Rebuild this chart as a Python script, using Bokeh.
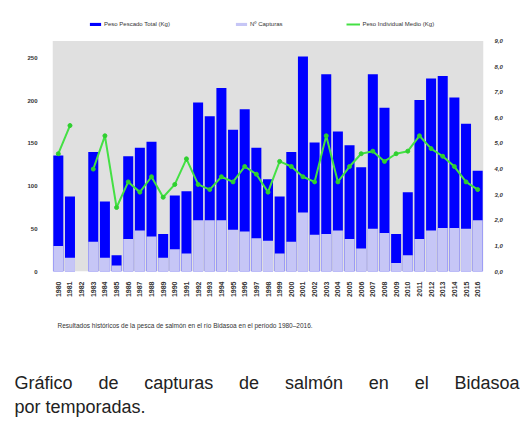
import math
from bokeh.plotting import figure
from bokeh.models import (FactorRange, Range1d, LinearAxis, FixedTicker, Legend,
                          LegendItem, BoxAnnotation, ColumnDataSource)
from bokeh.core.properties import value
from bokeh.embed import file_html
from bokeh.resources import INLINE

NaN = float("nan")

years = [str(y) for y in range(1980, 2017)]
peso_total = [136, 88, NaN, 140, 82, 19, 135, 145, 152, 44, 89, 94, 198, 182, 215,
              166, 190, 145, 108, 88, 140, 252, 151, 231, 164, 148, 122, 231, 192,
              44, 93, 201, 226, 229, 204, 173, 118]
capturas = [30, 16, NaN, 35, 16, 7, 38, 48, 41, 16, 26, 21, 60, 60, 60, 49, 47, 39,
            36, 21, 35, 69, 43, 44, 48, 38, 27, 50, 45, 10, 19, 38, 48, 51, 51, 50, 60]
peso_medio = [4.6, 5.7, NaN, 4.0, 5.3, 2.5, 3.5, 3.1, 3.7, 2.9, 3.4, 4.4, 3.4, 3.2,
              3.7, 3.5, 4.1, 3.8, 3.1, 4.3, 4.1, 3.7, 3.5, 5.3, 3.5, 4.1, 4.6, 4.7,
              4.3, 4.6, 4.7, 5.3, 4.8, 4.5, 4.1, 3.5, 3.2]
left_max = 270
right_max = 9
left_ticks = [0, 50, 100, 150, 200, 250]
right_ticks = [0, 1, 2, 3, 4, 5, 6, 7, 8, 9]
right_labels = ["0,0", "1,0", "2,0", "3,0", "4,0", "5,0", "6,0", "7,0", "8,0", "9,0"]

legend_labels = ["Peso Pescado Total (Kg)", "Nº Capturas", "Peso Individual Medio (Kg)"]
chart_note = "Resultados históricos de la pesca de salmón en el río Bidasoa en el período 1980–2016."
caption_line1 = ["Gráfico", "de", "capturas", "de", "salmón", "en", "el", "Bidasoa"]
caption_line2 = "por temporadas."

# text layout in page pixels (justified first caption line)
caption_word_x = [14, 97.9, 143.7, 238.6, 284.4, 368.3, 414.2, 454.0]

FONT = "Liberation Sans"
TXT = "#333333"

W = 520
TOP1, FRAME_H, BOT1 = 12, 263, 25       # chart figure: legend strip + frame + x labels
PLOT_H = 234                             # height of the grey plotting area
H1 = TOP1 + FRAME_H + BOT1
H2 = 427 - H1
scale = FRAME_H / PLOT_H

src = ColumnDataSource(dict(year=years, total=peso_total, capt=capturas, medio=peso_medio))

p = figure(x_range=FactorRange(factors=years, range_padding=0),
           y_range=Range1d(0, left_max * scale),
           width=W, height=H1,
           min_border_left=52, min_border_right=37,
           min_border_top=TOP1, min_border_bottom=BOT1,
           output_backend="svg", toolbar_location=None)
p.extra_y_ranges = {"right": Range1d(0, right_max * scale)}

p.background_fill_color = "white"
p.border_fill_color = "white"
p.outline_line_color = None
p.xgrid.grid_line_color = None
p.ygrid.grid_line_color = None

p.add_layout(BoxAnnotation(bottom=0, top=left_max, fill_color="#e0e0e0", fill_alpha=1,
                           line_color=None, level="underlay"))

r_total = p.vbar(x="year", top="total", width=0.86, source=src,
                 fill_color="#0000ff", line_color=None)
r_capt = p.vbar(x="year", top="capt", width=0.86, source=src,
                fill_color="#c6c6f6", line_color=None)
r_line = p.line(x="year", y="medio", source=src, y_range_name="right",
                line_color="#44e044", line_width=2)
p.scatter(x="year", y="medio", source=src, y_range_name="right",
          size=4, fill_color="#2fd02f", line_color="#2fd02f")

# axes
ax = p.xaxis[0]
ax.major_label_orientation = math.pi / 2
ax.major_label_text_font = FONT
ax.major_label_text_font_size = "7px"
ax.major_label_text_font_style = "bold"
ax.major_label_text_color = TXT
ax.axis_line_color = None
ax.major_tick_line_color = None
ax.major_label_standoff = 4

ay = p.yaxis[0]
ay.ticker = FixedTicker(ticks=left_ticks)
ay.major_label_text_font = FONT
ay.major_label_text_font_size = "6px"
ay.major_label_text_font_style = "bold"
ay.major_label_text_color = TXT
ay.axis_line_color = None
ay.major_tick_line_color = None
ay.minor_tick_line_color = None
ay.major_label_standoff = 9

ry = LinearAxis(y_range_name="right", ticker=FixedTicker(ticks=right_ticks),
                major_label_overrides={t: l for t, l in zip(right_ticks, right_labels)})
ry.major_label_text_font = FONT
ry.major_label_text_font_size = "6px"
ry.major_label_text_font_style = "bold italic"
ry.major_label_text_color = TXT
ry.axis_line_color = None
ry.major_tick_line_color = None
ry.minor_tick_line_color = None
ry.major_label_standoff = 5
p.add_layout(ry, "right")

legend = Legend(items=[LegendItem(label=legend_labels[0], renderers=[r_total]),
                       LegendItem(label=legend_labels[1], renderers=[r_capt]),
                       LegendItem(label=legend_labels[2], renderers=[r_line])],
                orientation="horizontal", location=(36, FRAME_H - 19),
                label_text_font=FONT, label_text_font_size="6px",
                label_text_color=TXT, glyph_width=14, glyph_height=4,
                label_height=6, label_standoff=2, spacing=64, padding=0, margin=0,
                border_line_color=None, background_fill_alpha=0)
p.add_layout(legend, "center")

# caption figure: ranges in page pixels
q = figure(x_range=Range1d(0, W), y_range=Range1d(427, H1),
           width=W, height=H2, min_border=0,
           min_border_left=0, min_border_right=0, min_border_top=0, min_border_bottom=0,
           output_backend="svg", toolbar_location=None)
q.axis.visible = False
q.grid.grid_line_color = None
q.outline_line_color = None
q.background_fill_color = "white"
q.border_fill_color = "white"

q.text(x=[57], y=[325], text=[chart_note], text_font=value(FONT),
       text_font_size="6.5px", text_color=TXT, text_baseline="alphabetic")
q.text(x=caption_word_x, y=[382] * len(caption_line1), text=caption_line1,
       text_font=value(FONT), text_font_size="18px", text_color="#222222",
       text_baseline="alphabetic")
q.text(x=[14], y=[406], text=[caption_line2], text_font=value(FONT),
       text_font_size="18px", text_color="#222222", text_baseline="alphabetic")

open("out.html", "w").write(file_html([p, q], INLINE))
